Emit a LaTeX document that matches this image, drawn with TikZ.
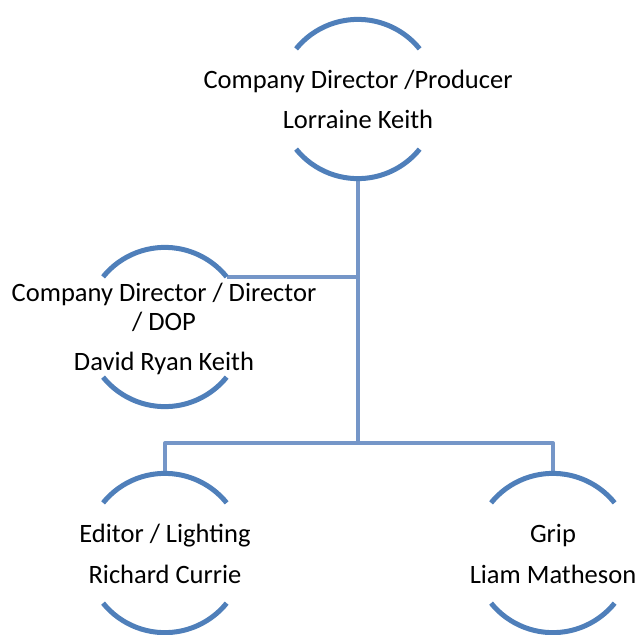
\documentclass[tikz,border=0pt]{standalone}
\usepackage{fontspec}
\setmainfont{Carlito}
\definecolor{arcblue}{HTML}{4F7FBA}
\definecolor{connblue}{HTML}{7596C8}
\begin{document}
\begin{tikzpicture}[x=1pt,y=1pt,
  orgnode/.style={circle,minimum size=159pt,inner sep=0pt,draw=none},
  arcline/.style={draw=arcblue,line width=5pt},
  conn/.style={draw=connblue,line width=4pt,line join=round},
  lbl/.style={anchor=base,inner sep=0pt,font=\fontsize{26.5}{30}\selectfont,text=black}]
\useasboundingbox (0,0) rectangle (635,-635);
% circle holders
\node[orgnode] (top) at (358,-99) {};
\node[orgnode] (mid) at (165,-327) {};
\node[orgnode] (bl) at (165,-553) {};
\node[orgnode] (br) at (553,-553) {};
\coordinate (bus) at (358,-443);
% connectors
\draw[conn] (top.south) -- (bus);
\draw[conn] (mid.39) -- (mid.39 -| top.south);
\draw[conn] (bl.north) -- (bl.north |- bus) -- (br.north |- bus) -- (br.north);
% arcs
\foreach \n in {top,mid,bl,br}{
  \draw[arcline] (\n.141) arc[start angle=141,end angle=39,radius=79.5];
  \draw[arcline] (\n.219) arc[start angle=219,end angle=321,radius=79.5];
}
% texts
\node[lbl] (top1) at (358,-88.3) {Company Director /Producer};
\node[lbl] (top2) at (358,-128.3) {Lorraine Keith};
\node[lbl] (mid1) at (164,-301.7) {Company Director / Director};
\node[lbl] (mid2) at (164,-330.7) {/ DOP};
\node[lbl] (mid3) at (164,-370.7) {David Ryan Keith};
\node[lbl] (bl1) at (165,-542) {Editor / Lighting};
\node[lbl] (bl2) at (165,-583) {Richard Currie};
\node[lbl] (br1) at (553,-542) {Grip};
\node[lbl] (br2) at (553,-583) {Liam Matheson};
\end{tikzpicture}
\end{document}
